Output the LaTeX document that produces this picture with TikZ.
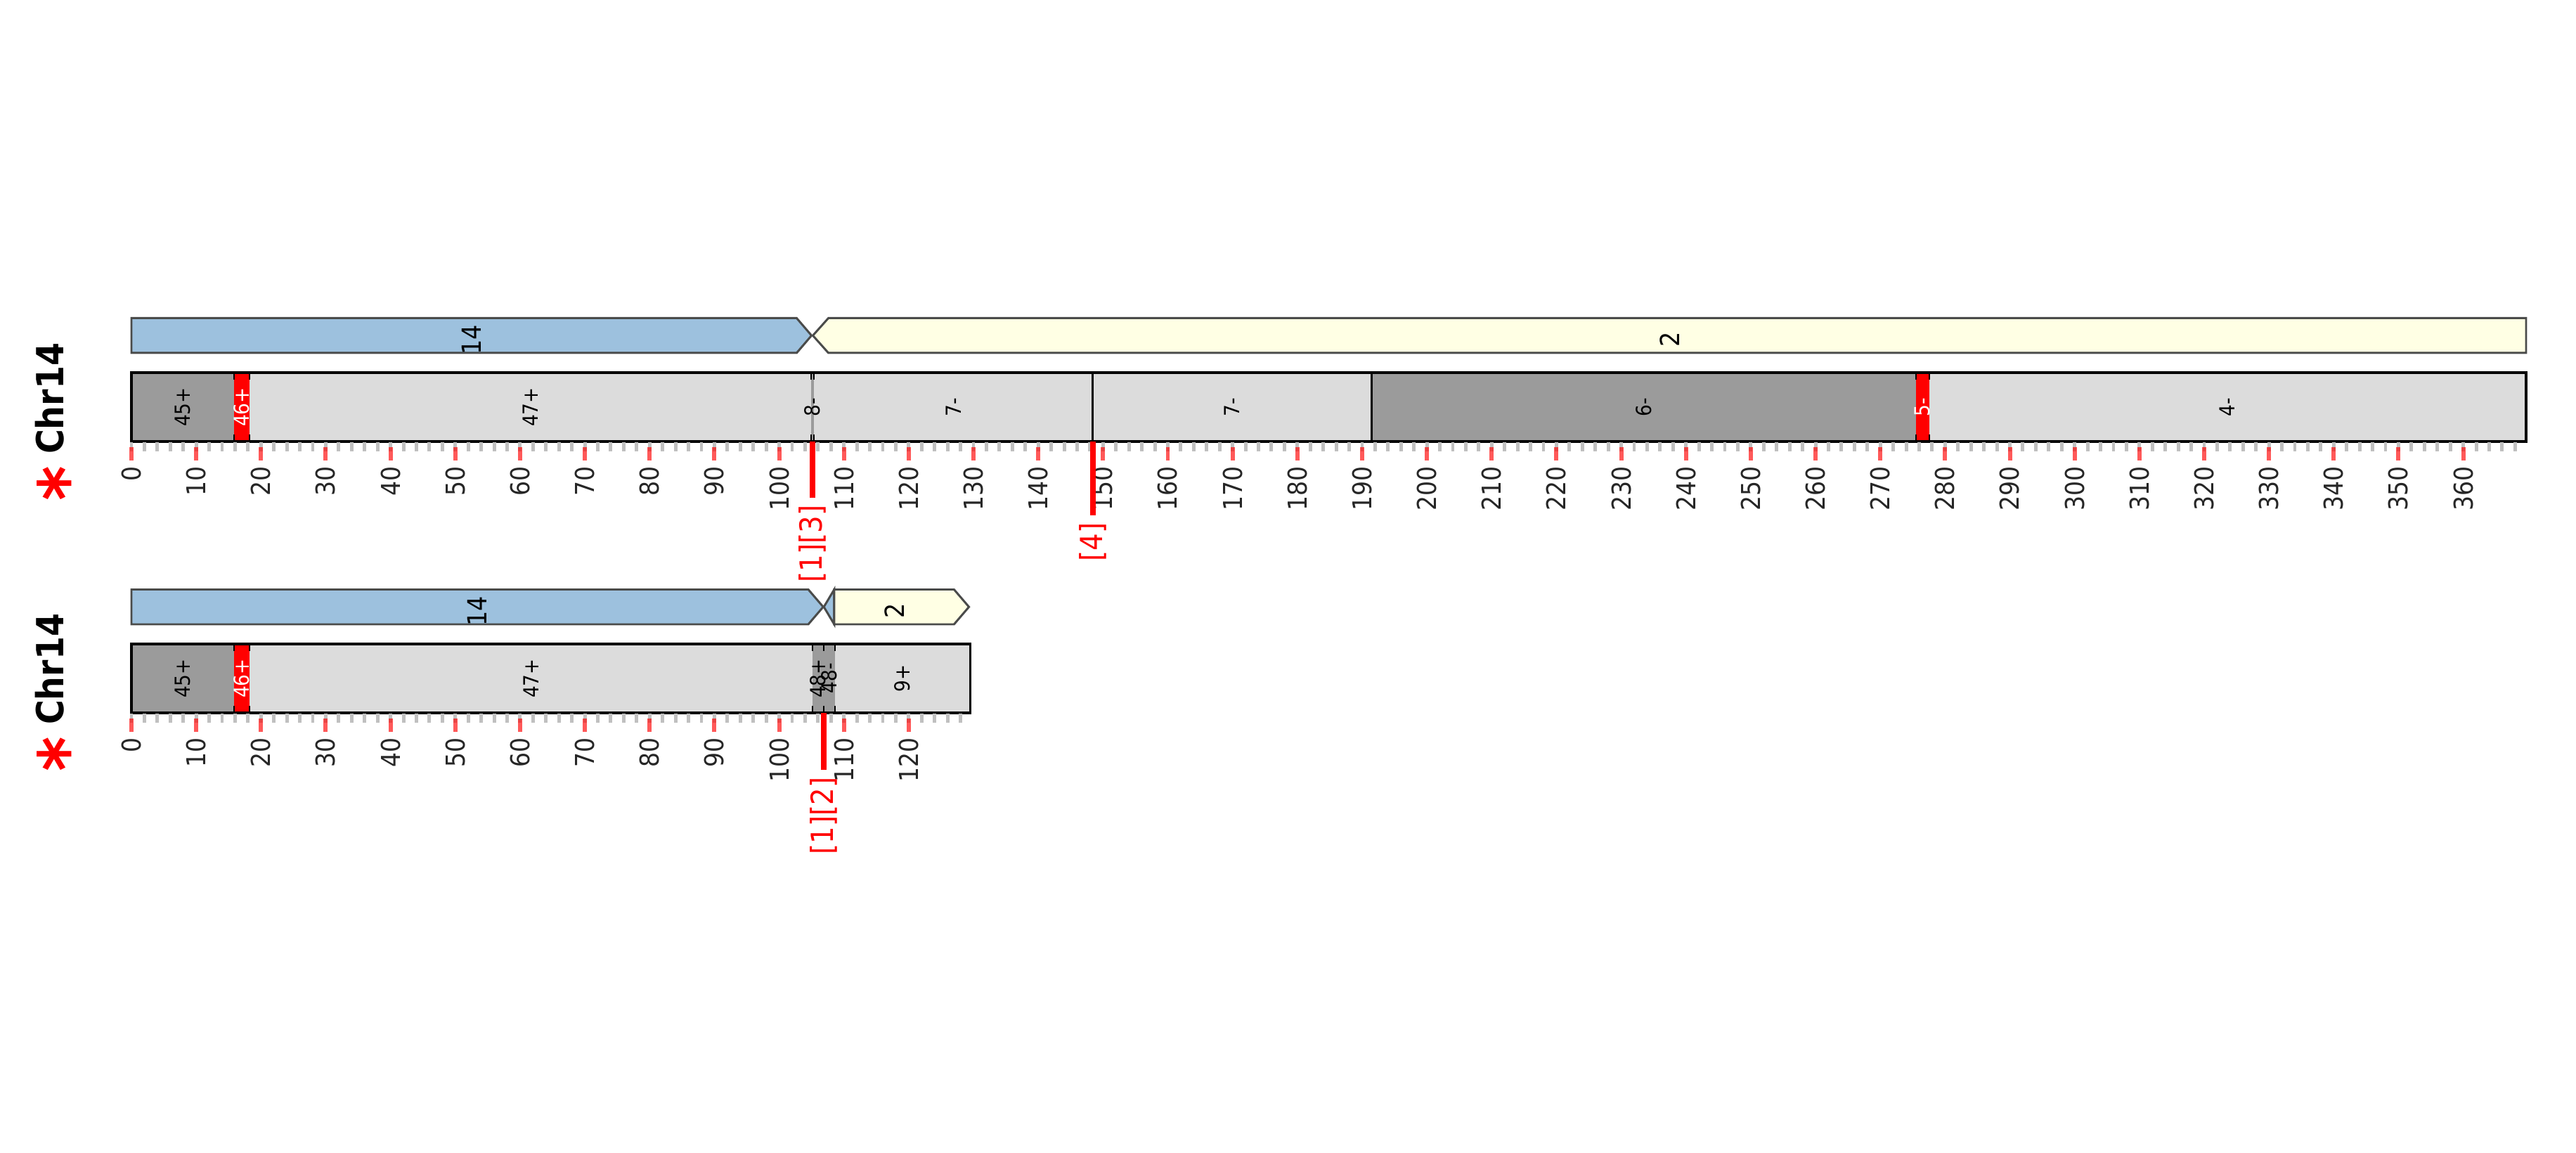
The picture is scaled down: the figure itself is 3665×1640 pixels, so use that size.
\documentclass[tikz,border=0pt]{standalone}
\usepackage{fontspec}
\setmainfont{DejaVu Sans}
\usepackage{tikz}
\definecolor{geneblue}{HTML}{9DC1DE}
\definecolor{geneyellow}{HTML}{FFFFE4}
\definecolor{genedge}{HTML}{4A4B4A}
\definecolor{segdark}{HTML}{9B9B9B}
\definecolor{seglight}{HTML}{DCDCDC}
\definecolor{minorgray}{HTML}{C0C0C0}
\definecolor{axistext}{HTML}{262626}
\tikzset{
  gene/.style={draw=genedge,line width=0.85pt,fill=#1,line join=miter},
  gene/.default=geneblue,
  frame/.style={draw=black,line width=0.95pt},
  edgemark/.style={draw=black,line width=0.6pt},
  contigedge/.style={draw=black,line width=0.95pt},
  minortick/.style={draw=minorgray,line width=1.4pt},
  majortick/.style={draw=red,draw opacity=0.65,line width=1.7pt},
  bpline/.style={draw=red,line width=2.3pt},
  vtext/.style={xscale=1.12,rotate=90,inner sep=0pt},
  segtext/.style={vtext,font=\fontsize{7.5}{9}\selectfont,text=#1},
  segtext/.default=black,
  ticklabel/.style={vtext,anchor=east,font=\fontsize{9.4}{11}\selectfont,text=axistext},
  genelabel/.style={vtext,font=\fontsize{9.5}{11}\selectfont},
  bplabel/.style={vtext,anchor=east,text=red,font=\fontsize{11}{13}\selectfont},
  chrlabel/.style={vtext,anchor=base,font=\fontsize{13.5}{16}\selectfont\bfseries}
}
\newcommand{\chrname}{{\color{red}\fontsize{27}{27}\selectfont\raisebox{-0.38em}{*}}~Chr14}

\begin{document}
\begin{tikzpicture}[x=0.01cm,y=-0.01cm]
\useasboundingbox (0,0) rectangle (3665,1640);

% first contig
\begin{scope}[shift={(187,530)},x=0.0921cm]
\draw[gene=geneblue] (0,-77.5) -- (102.7,-77.5) -- (105.0,-52.75) -- (102.7,-28) -- (0,-28) -- cycle;
\draw[gene=geneyellow] (105.2,-52.75) -- (107.6,-77.5) -- (369.7,-77.5) -- (369.7,-28) -- (107.6,-28) -- cycle;
\node[genelabel] (geneA14) at (52.5,-47) {14};
\node[genelabel] (geneA2) at (237.5,-47) {2};

\fill[segdark] (0,0) rectangle (15.85,98);
\fill[red] (15.85,0) rectangle (18.25,98);
\fill[seglight] (18.25,0) rectangle (104.9,98);
\fill[segdark] (104.9,0) rectangle (105.4,98);
\fill[seglight] (105.4,0) rectangle (191.5,98);
\fill[segdark] (191.5,0) rectangle (275.5,98);
\fill[red] (275.5,0) rectangle (277.55,98);
\fill[seglight] (277.55,0) rectangle (369.7,98);
\foreach \b in {15.85,18.25,104.9,105.4,275.5,277.55} {
  \draw[edgemark] (\b,0) -- (\b,10);
  \draw[edgemark] (\b,88) -- (\b,98);
}
\draw[contigedge] (148.4,0) -- (148.4,98);
\draw[contigedge] (191.5,0) -- (191.5,98);
\draw[frame] (0,0) rectangle (369.7,98);

\node[segtext] (segA45) at (7.93,49) {45+};
\node[segtext=white] (segA46) at (17.05,49) {46+};
\node[segtext] (segA47) at (61.6,49) {47+};
\node[segtext] (segA8) at (105.15,49) {8-};
\node[segtext] (segA7a) at (126.9,49) {7-};
\node[segtext] (segA7b) at (169.95,49) {7-};
\node[segtext] (segA6) at (233.5,49) {6-};
\node[segtext=white] (segA5) at (276.5,49) {5-};
\node[segtext] (segA4) at (323.6,49) {4-};

\foreach \t in {0,2,...,368} \draw[minortick] (\t,99) -- (\t,112);
\foreach \t in {0,10,...,360} {
  \draw[majortick] (\t,106) -- (\t,125);
  \node[ticklabel] (tickA\t) at (\t,133) {\t};
}

\draw[bpline] (105.15,98) -- (105.15,178);
\node[bplabel] (bpA13) at (105.15,188) {[1][3]};
\draw[bpline] (148.4,98) -- (148.4,203);
\node[bplabel] (bpA4) at (148.4,213) {[4]};

\node[chrlabel] (chrA) at (-10.42,70) {\chrname};
\end{scope}

% second contig
\begin{scope}[shift={(187,916)},x=0.0921cm]
\draw[gene=geneblue] (0,-77.5) -- (104.5,-77.5) -- (106.8,-52.75) -- (104.5,-28) -- (0,-28) -- cycle;
\draw[gene=geneblue] (106.9,-52.75) -- (108.5,-77.5) -- (108.5,-28) -- cycle;
\draw[gene=geneyellow] (108.5,-77.5) -- (127.0,-77.5) -- (129.3,-52.75) -- (127.0,-28) -- (108.5,-28) -- cycle;
\node[genelabel] (geneB14) at (53.4,-47) {14};
\node[genelabel] (geneB2) at (117.8,-47) {2};

\fill[segdark] (0,0) rectangle (15.85,98);
\fill[red] (15.85,0) rectangle (18.25,98);
\fill[seglight] (18.25,0) rectangle (105.1,98);
\fill[segdark] (105.1,0) rectangle (108.6,98);
\fill[seglight] (108.6,0) rectangle (129.5,98);
\foreach \b in {15.85,18.25,105.1,106.9,108.6} {
  \draw[edgemark] (\b,0) -- (\b,10);
  \draw[edgemark] (\b,88) -- (\b,98);
}
\draw[frame] (0,0) rectangle (129.5,98);

\node[segtext] (segB45) at (7.93,49) {45+};
\node[segtext=white] (segB46) at (17.05,49) {46+};
\node[segtext] (segB47) at (61.7,49) {47+};
\node[segtext] (segB48p) at (106.0,49) {48+};
\node[segtext] (segB48m) at (107.75,49) {48-};
\node[segtext] (segB9) at (119.05,49) {9+};

\foreach \t in {0,2,...,128} \draw[minortick] (\t,99) -- (\t,112);
\foreach \t in {0,10,...,120} {
  \draw[majortick] (\t,106) -- (\t,125);
  \node[ticklabel] (tickB\t) at (\t,133) {\t};
}

\draw[bpline] (106.9,98) -- (106.9,179);
\node[bplabel] (bpB12) at (106.9,189) {[1][2]};

\node[chrlabel] (chrB) at (-10.42,69) {\chrname};
\end{scope}
\end{tikzpicture}
\end{document}
